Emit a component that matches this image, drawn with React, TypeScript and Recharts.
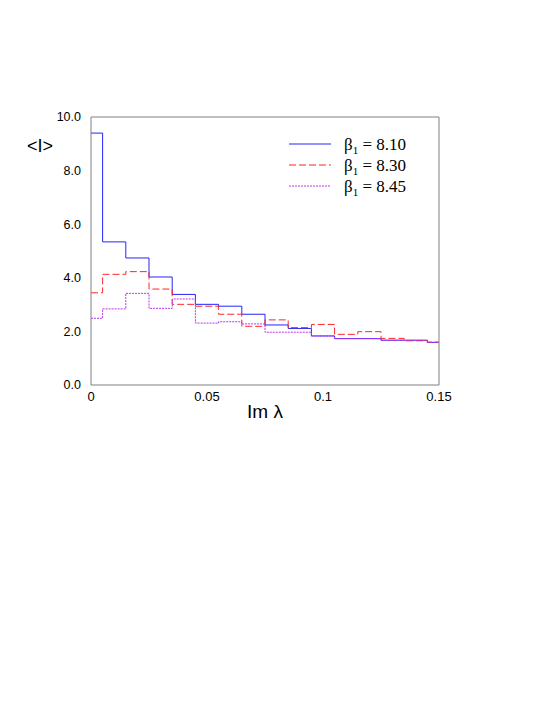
import { Legend, Line, LineChart, XAxis, YAxis } from "recharts";

// bin centres of Im(lambda)
const binCenters = [0, 0.01, 0.02, 0.03, 0.04, 0.05, 0.06, 0.07, 0.08, 0.09, 0.1, 0.11, 0.12, 0.13, 0.14, 0.15];

const beta810 = [9.4, 5.34, 4.74, 4.03, 3.38, 3.01, 2.94, 2.64, 2.24, 2.11, 1.83, 1.73, 1.73, 1.67, 1.67, 1.59];
const beta830 = [3.44, 4.13, 4.23, 3.58, 3.01, 2.94, 2.64, 2.19, 2.43, 2.14, 2.26, 1.89, 1.99, 1.74, 1.65, 1.6];
const beta845 = [2.49, 2.84, 3.42, 2.86, 3.21, 2.31, 2.36, 2.28, 1.97, 1.97, 1.83, 1.73, 1.73, 1.67, 1.67, 1.59];

const xTicks = [0, 0.025, 0.05, 0.075, 0.1, 0.125, 0.15];
const yTicks = [0, 1, 2, 3, 4, 5, 6, 7, 8, 9, 10];

const series = [
  { key: "b810", label: "8.10", color: "#2424ff", dash: undefined as string | undefined, values: beta810 },
  { key: "b830", label: "8.30", color: "#ff2626", dash: "7 3", values: beta830 },
  { key: "b845", label: "8.45", color: "#b836ee", dash: "2 1", values: beta845 },
];

const data = binCenters.map((x, i) => {
  const row: Record<string, number> = { x };
  series.forEach((s) => (row[s.key] = s.values[i]));
  return row;
});

const AXIS = "#808080";
const SANS = "Liberation Sans, Arial, sans-serif";

const fmtX = (v: number) => (Math.abs(v * 20 - Math.round(v * 20)) < 1e-9 ? String(Number(v.toFixed(2))) : "");
const fmtY = (v: number) => (v % 2 === 0 ? v.toFixed(1) : "");

function LegendBox() {
  return (
    <div style={{ fontFamily: "Liberation Serif, Times New Roman, serif", fontSize: 17, color: "#000" }}>
      {series.map((s) => (
        <div key={s.key} style={{ display: "flex", alignItems: "center", height: 21, lineHeight: "21px" }}>
          <svg width={42} height={21} style={{ display: "block" }}>
            <line x1={0} x2={42} y1={10} y2={10} stroke={s.color} strokeWidth={1} strokeDasharray={s.dash} />
          </svg>
          <span style={{ marginLeft: 13, whiteSpace: "nowrap" }}>
            β<sub style={{ fontSize: 11, verticalAlign: "-4px", lineHeight: 0 }}>1</sub> = {s.label}
          </span>
        </div>
      ))}
    </div>
  );
}

export default function App() {
  return (
    <div style={{ position: "absolute", left: 0, top: 0 }}>
      <LineChart width={545} height={705} data={data} margin={{ top: 117, right: 106, bottom: 275, left: 20 }}>
        <XAxis
          xAxisId="b"
          dataKey="x"
          type="number"
          domain={[0, 0.15]}
          ticks={xTicks}
          tickFormatter={fmtX}
          tickLine={false}
          tickSize={0}
          tickMargin={7}
          tick={{ fontFamily: SANS, fontSize: 13, fill: "#000" }}
          axisLine={{ stroke: AXIS }}
          height={45}
          interval={0}
          label={{ value: "Im λ", position: "insideBottom", offset: 12, fontFamily: SANS, fontSize: 19, fill: "#000" }}
        />
        <XAxis xAxisId="bm" dataKey="x" type="number" domain={[0, 0.15]} ticks={xTicks} mirror tick={false} tickSize={4} tickLine={{ stroke: AXIS }} axisLine={false} interval={0} />
        <XAxis xAxisId="t" orientation="top" dataKey="x" type="number" domain={[0, 0.15]} ticks={xTicks} mirror tick={false} tickSize={4} tickLine={{ stroke: AXIS }} axisLine={{ stroke: AXIS }} interval={0} />
        <YAxis
          yAxisId="l"
          type="number"
          domain={[0, 10]}
          ticks={yTicks}
          tickFormatter={fmtY}
          tickLine={false}
          tickSize={0}
          tickMargin={10}
          tick={{ fontFamily: SANS, fontSize: 12.5, fill: "#000" }}
          axisLine={{ stroke: AXIS }}
          width={71}
          interval={0}
          label={{
            content: (props: any) => {
              const vb = props.viewBox || { x: 20, y: 117 };
              return (
                <text x={vb.x + 7} y={vb.y + 35} fontFamily={SANS} fontSize={18} fill="#000">
                  {"<I>"}
                </text>
              );
            },
          }}
        />
        <YAxis yAxisId="lm" type="number" domain={[0, 10]} ticks={yTicks} mirror tick={false} tickSize={4} tickLine={{ stroke: AXIS }} axisLine={false} interval={0} />
        <YAxis yAxisId="r" orientation="right" type="number" domain={[0, 10]} ticks={yTicks} mirror tick={false} tickSize={4} tickLine={{ stroke: AXIS }} axisLine={{ stroke: AXIS }} interval={0} />
        {series.map((s) => (
          <Line
            key={s.key}
            xAxisId="b"
            yAxisId="l"
            type="step"
            dataKey={s.key}
            stroke={s.color}
            strokeWidth={1}
            strokeDasharray={s.dash}
            dot={false}
            activeDot={false}
            isAnimationActive={false}
          />
        ))}
        <Legend
          layout="horizontal"
          verticalAlign="middle"
          align="center"
          content={() => <LegendBox />}
          wrapperStyle={{ position: "absolute", left: 289, top: 134, width: 160, height: 63 }}
        />
      </LineChart>
    </div>
  );
}
